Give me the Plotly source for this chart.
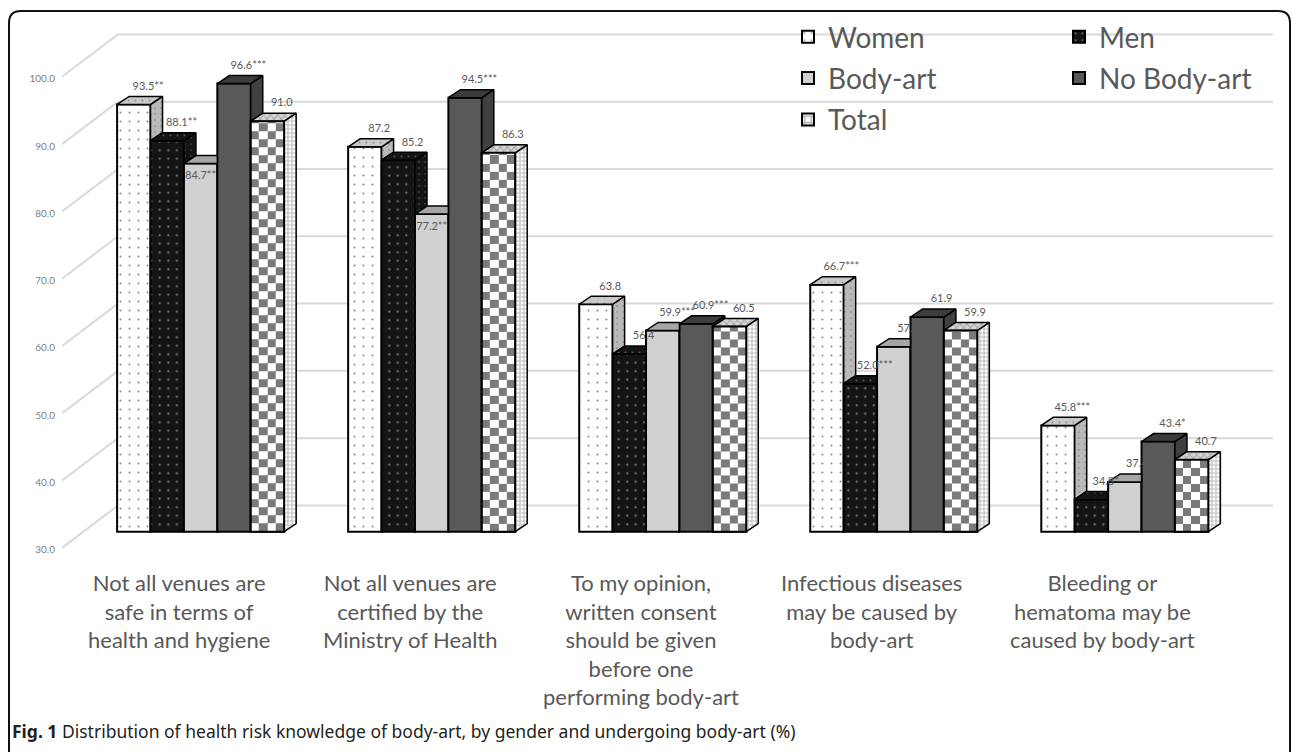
import numpy as np
import plotly.graph_objects as go

# ---------------------------------------------------------------- data
categories = [
    "Not all venues are<br>safe in terms of<br>health and hygiene",
    "Not all venues are<br>certified by the<br>Ministry of Health",
    "To my opinion,<br>written consent<br>should be given<br>before one<br>performing body-art",
    "Infectious diseases<br>may be caused by<br>body-art",
    "Bleeding or<br>hematoma may be<br>caused by body-art",
]
series_names = ["Women", "Men", "Body-art", "No Body-art", "Total"]

women = [93.5, 87.2, 63.8, 66.7, 45.8]
men = [88.1, 85.2, 56.4, 52.0, 34.8]
body_art = [84.7, 77.2, 59.9, 57.5, 37.4]
no_body_art = [96.6, 94.5, 60.9, 61.9, 43.4]
total = [91.0, 86.3, 60.5, 59.9, 40.7]

# significance markers printed after each value
women_sig = ["**", "", "", "***", "***"]
men_sig = ["**", "", "", "***", "*"]
body_art_sig = ["**", "**", "***", "", "*"]
no_body_art_sig = ["***", "***", "***", "", "*"]
total_sig = ["", "", "", "", ""]

y_ticks = [30, 40, 50, 60, 70, 80, 90, 100]

caption = ("<b>Fig. 1</b> Distribution of health risk knowledge of body-art, "
           "by gender and undergoing body-art (%)")

# ---------------------------------------------------------------- geometry
W, H = 1292, 752
L_M, R_M, T_M, B_M = 62, 17, 27, 153
PW, PH = W - L_M - R_M, H - T_M - B_M
X_RANGE = [-0.6, 4.65]
Y_RANGE = [20, 105]
BASE = 30
BAR_W = 0.1446      # width of one bar front (category units)
DX, DY = 0.052, 1.19  # depth of the pseudo-3D extrusion
GRID_SHIFT = 3.9    # back wall sits above the bar fronts
LABEL_SHIFT = 2.7   # tick labels sit below the bar fronts
CELL_Y = 1.19       # checker cell height for the Total bars
FONT = "Lato"
TEXT_GREY = "#595959"


def data_x(px):
    return X_RANGE[0] + (px - L_M) / PW * (X_RANGE[1] - X_RANGE[0])


def paper_x(px):
    return (px - L_M) / PW


def paper_y(py):
    return (H - B_M - py) / PH


series = [women, men, body_art, no_body_art, total]
sigs = [women_sig, men_sig, body_art_sig, no_body_art_sig, total_sig]
n_series = len(series)

styles = [
    dict(front=dict(color="#ffffff", pattern=dict(shape=".", fgcolor="#111111", bgcolor="#ffffff",
                                                  size=9, solidity=0.04)),
         top=dict(fillcolor="#c9c9c9", pattern=dict(shape=".", fgcolor="#555555", bgcolor="#c9c9c9",
                                                    size=7, solidity=0.06)),
         side=dict(fillcolor="#b9b9b9", pattern=dict(shape=".", fgcolor="#444444", bgcolor="#b9b9b9",
                                                     size=6, solidity=0.06))),
    dict(front=dict(color="#141414", pattern=dict(shape=".", fgcolor="#e8e8e8", bgcolor="#141414",
                                                  size=8.5, solidity=0.05)),
         top=dict(fillcolor="#141414", pattern=dict(shape=".", fgcolor="#9a9a9a", bgcolor="#141414",
                                                    size=7, solidity=0.06)),
         side=dict(fillcolor="#141414", pattern=dict(shape=".", fgcolor="#9a9a9a", bgcolor="#141414",
                                                     size=6, solidity=0.06))),
    dict(front=dict(color="#d0d1d0", pattern=None),
         top=dict(fillcolor="#a6a6a6", pattern=None),
         side=dict(fillcolor="#9c9c9c", pattern=None)),
    dict(front=dict(color="#595959", pattern=None),
         top=dict(fillcolor="#3c3c3c", pattern=None),
         side=dict(fillcolor="#404040", pattern=None)),
    dict(front=dict(color="#ffffff", pattern=dict(shape="+", fgcolor="#7a7a7a", bgcolor="#ffffff",
                                                  size=8, solidity=0.5)),
         top=dict(fillcolor="#c4c4c4", pattern=dict(shape="x", fgcolor="#7a7a7a", bgcolor="#d8d8d8",
                                                    size=5, solidity=0.4)),
         side=dict(fillcolor="#ffffff", pattern=dict(shape="+", fgcolor="#7a7a7a", bgcolor="#ffffff",
                                                     size=4, solidity=0.5))),
]
legend_of = ["legend", "legend2", "legend", "legend2", "legend"]


def bar_left(i, j):
    return i - 2.5 * BAR_W + j * BAR_W


fig = go.Figure()

# ---------------------------------------------------------------- bar fronts
for j, (name, vals) in enumerate(zip(series_names, series)):
    st = styles[j]["front"]
    marker = dict(color=st["color"], line=dict(color="#000000", width=2))
    if st["pattern"]:
        marker["pattern"] = st["pattern"]
    fig.add_trace(go.Bar(
        x=list(range(len(vals))), y=[v - BASE for v in vals], base=BASE,
        width=BAR_W, offset=-2.5 * BAR_W + j * BAR_W,
        name=name, marker=marker, legend=legend_of[j], legendgroup=name,
        hovertemplate=name + ": %{customdata:.1f}<extra></extra>", customdata=vals,
    ))

# ---------------------------------------------------------------- top and side faces
def poly_trace(xs, ys, style):
    kw = dict(x=xs, y=ys, mode="lines", fill="toself",
              line=dict(color="#000000", width=1.5),
              fillcolor=style["fillcolor"], showlegend=False, hoverinfo="skip")
    if style["pattern"]:
        kw["fillpattern"] = style["pattern"]
    return go.Scatter(**kw)


for j, vals in enumerate(series):
    tx, ty, sx, sy = [], [], [], []
    for i, v in enumerate(vals):
        left = bar_left(i, j)
        right = left + BAR_W
        nxt = series[j + 1][i] if j < n_series - 1 else BASE
        # top face, cut where the following bar rises in front of it
        if nxt > v:
            pts = [(left, v), (right, v), (right, v + DY), (left + DX, v + DY)]
        else:
            pts = [(left, v), (right, v), (right + DX, v + DY), (left + DX, v + DY)]
        pts.append(pts[0])
        tx += [p[0] for p in pts] + [None]
        ty += [p[1] for p in pts] + [None]
        # side face, only the part rising above the following bar
        low = max(nxt, BASE)
        if v > low:
            pts = [(right, low), (right, v), (right + DX, v + DY), (right + DX, low + DY), (right, low)]
            sx += [p[0] for p in pts] + [None]
            sy += [p[1] for p in pts] + [None]
    fig.add_trace(poly_trace(sx, sy, styles[j]["side"]))
    fig.add_trace(poly_trace(tx, ty, styles[j]["top"]))

# ---------------------------------------------------------------- value labels
for j, (vals, sg) in enumerate(zip(series, sigs)):
    xs, ys, txt = [], [], []
    for i, v in enumerate(vals):
        center = bar_left(i, j) + BAR_W / 2
        nxt = series[j + 1][i] if j < n_series - 1 else BASE
        if nxt - v > 8:
            xs.append(center)
            ys.append(v - 1.9)
        else:
            xs.append(center + 0.062)
            ys.append(v + 2.6)
        txt.append(f"{v:.1f}{sg[i]}")
    fig.add_trace(go.Scatter(x=xs, y=ys, text=txt, mode="text",
                             textfont=dict(family=FONT, size=11, color=TEXT_GREY),
                             showlegend=False, hoverinfo="skip"))

# ---------------------------------------------------------------- checkered Total fronts
for i, v in enumerate(total):
    left = bar_left(i, n_series - 1)
    xe = np.linspace(left, left + BAR_W, 5)
    ye = list(np.arange(BASE, v, CELL_Y))
    if v - ye[-1] < 0.05:
        ye = ye[:-1]
    ye.append(v)
    z = [[(r + c) % 2 for c in range(len(xe) - 1)] for r in range(len(ye) - 1)]
    fig.add_trace(go.Heatmap(x=xe, y=ye, z=z, zmin=0, zmax=1,
                             colorscale=[[0, "#ffffff"], [1, "#7a7a7a"]],
                             showscale=False, hoverinfo="skip",
                             xaxis="x2", yaxis="y2"))

ox, oy = [], []
for i, v in enumerate(total):
    left = bar_left(i, n_series - 1)
    right = left + BAR_W
    ox += [left, right, right, left, left, None]
    oy += [BASE, BASE, v, v, BASE, None]
fig.add_trace(go.Scatter(x=ox, y=oy, mode="lines", line=dict(color="#000000", width=2),
                         showlegend=False, hoverinfo="skip", xaxis="x2", yaxis="y2"))

# axis that carries the tick labels
fig.add_trace(go.Scatter(x=[None], y=[None], yaxis="y3", showlegend=False, hoverinfo="skip"))

# ---------------------------------------------------------------- back-wall grid
shapes = []
gx0, gx1 = data_x(118), data_x(1273)
for t in y_ticks:
    shapes.append(dict(type="line", xref="x", yref="y", x0=gx0, x1=gx1,
                       y0=t + GRID_SHIFT, y1=t + GRID_SHIFT,
                       line=dict(color="#d9d9d9", width=2), layer="below"))
    shapes.append(dict(type="line", xref="x", yref="y", x0=X_RANGE[0], x1=gx0,
                       y0=t - LABEL_SHIFT + 0.3, y1=t + GRID_SHIFT,
                       line=dict(color="#d9d9d9", width=2), layer="below"))

# rounded frame
frame = (f"M {paper_x(9)},{paper_y(800)} L {paper_x(9)},{paper_y(23)} "
         f"Q {paper_x(9)},{paper_y(11)} {paper_x(21)},{paper_y(11)} "
         f"L {paper_x(1278)},{paper_y(11)} "
         f"Q {paper_x(1290)},{paper_y(11)} {paper_x(1290)},{paper_y(23)} "
         f"L {paper_x(1290)},{paper_y(800)}")
shapes.append(dict(type="path", xref="paper", yref="paper", path=frame,
                   line=dict(color="#111111", width=2)))

# ---------------------------------------------------------------- category labels and caption
annotations = []
for i, c in enumerate(categories):
    annotations.append(dict(x=i, xref="x", xshift=-22, y=paper_y(567), yref="paper",
                            yanchor="top", xanchor="center", align="center", text=c,
                            showarrow=False,
                            font=dict(family=FONT, size=22, color=TEXT_GREY)))
annotations.append(dict(x=paper_x(10), xref="paper", y=paper_y(731), yref="paper",
                        xanchor="left", yanchor="middle", text=caption, showarrow=False,
                        font=dict(family="Noto Sans", size=17.5, color="#231f20")))

legend_style = dict(yanchor="top", xanchor="left", bgcolor="rgba(0,0,0,0)",
                    font=dict(family=FONT, size=28, color=TEXT_GREY),
                    tracegroupgap=2, itemwidth=30, traceorder="grouped")

fig.update_layout(
    width=W, height=H,
    margin=dict(l=L_M, r=R_M, t=T_M, b=B_M),
    paper_bgcolor="#ffffff", plot_bgcolor="rgba(0,0,0,0)",
    barmode="overlay",
    showlegend=True,
    legend=dict(x=paper_x(788), y=paper_y(12), **legend_style),
    legend2=dict(x=paper_x(1059), y=paper_y(12), **legend_style),
    xaxis=dict(range=X_RANGE, visible=False, fixedrange=True),
    yaxis=dict(range=Y_RANGE, visible=False, fixedrange=True),
    xaxis2=dict(range=X_RANGE, visible=False, overlaying="x", anchor="y2"),
    yaxis2=dict(range=Y_RANGE, visible=False, overlaying="y", anchor="x2"),
    yaxis3=dict(range=[Y_RANGE[0] + LABEL_SHIFT, Y_RANGE[1] + LABEL_SHIFT],
                overlaying="y", anchor="x", side="left",
                tickvals=y_ticks, ticktext=[f"{t:.1f}" for t in y_ticks],
                showgrid=False, zeroline=False, showline=False, ticks="",
                ticklabelstandoff=6,
                tickfont=dict(family=FONT, size=10, color="#7f7f7f")),
    shapes=shapes,
    annotations=annotations,
)

fig.write_html("out.html")
